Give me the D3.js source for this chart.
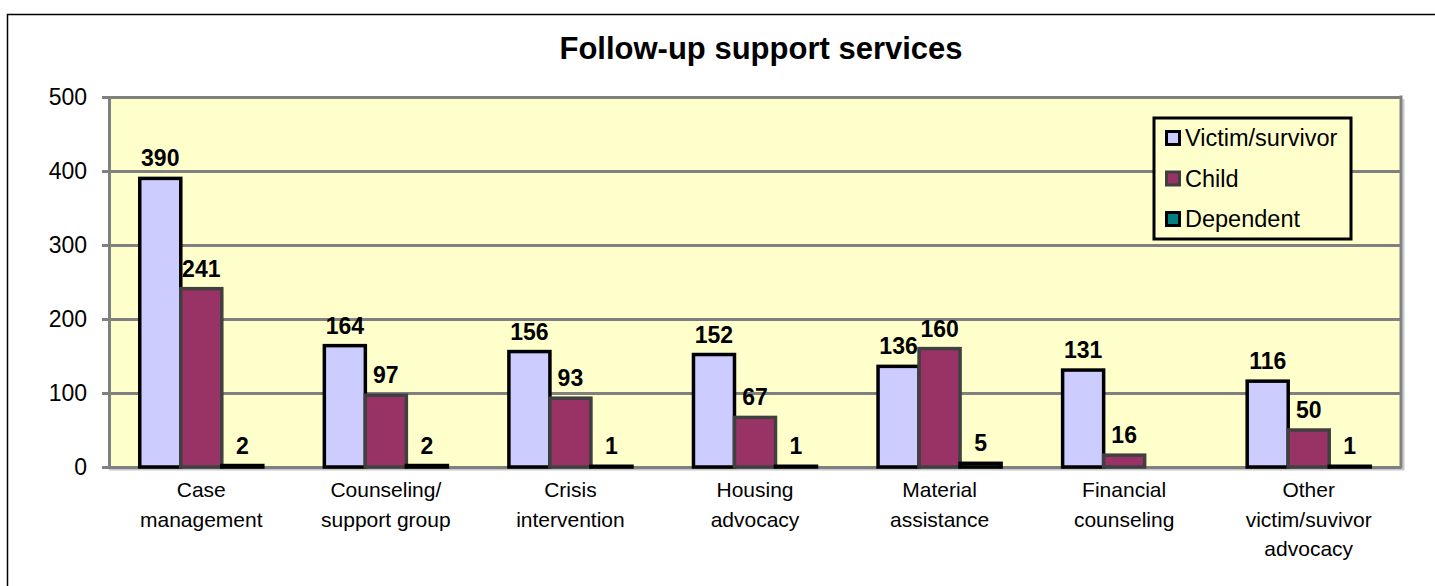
<!DOCTYPE html>
<html>
<head>
<meta charset="utf-8">
<script src="https://cdn.jsdelivr.net/npm/d3@7"></script>
<style>
  html, body { margin: 0; padding: 0; background: #fff; }
  svg { display: block; }
  text { font-family: "Liberation Sans", Arial, sans-serif; }
</style>
</head>
<body>
<svg id="chart" width="1435" height="586"></svg>
<script>
// ---- data ----
const categories = [
  "Case\nmanagement",
  "Counseling/\nsupport group",
  "Crisis\nintervention",
  "Housing\nadvocacy",
  "Material\nassistance",
  "Financial\ncounseling",
  "Other\nvictim/suvivor\nadvocacy"
];
const seriesNames = ["Victim/survivor", "Child", "Dependent"];
const victimSurvivor = [390, 164, 156, 152, 136, 131, 116];
const child = [241, 97, 93, 67, 160, 16, 50];
const dependent = [2, 2, 1, 1, 5, null, 1];
const yTicks = [0, 100, 200, 300, 400, 500];
const title = "Follow-up support services";

// ---- styles / layout ----
const fills = ["#CCCCFF", "#993366", "#008080"];
const strokes = ["#000000", "#404040", "#000000"];
const font = '"Liberation Sans", Arial, sans-serif';
const plot = { left: 109, right: 1401, top: 97, bottom: 467 };

const svg = d3.select("#chart");
const seriesValues = [victimSurvivor, child, dependent];

// frame
svg.append("rect")
  .attr("x", 7.5).attr("y", 14.5)
  .attr("width", 3000).attr("height", 3000)
  .attr("fill", "#fff").attr("stroke", "#000").attr("stroke-width", 1.5);

// title
svg.append("text")
  .attr("x", 761).attr("y", 59)
  .attr("text-anchor", "middle")
  .attr("font-size", 31).attr("font-weight", "bold")
  .attr("fill", "#000")
  .text(title);

// scales
const x0 = d3.scaleBand()
  .domain(d3.range(categories.length))
  .range([plot.left, plot.right])
  .paddingInner(1 / 3)
  .paddingOuter(1 / 6);
const x1 = d3.scaleBand()
  .domain(d3.range(seriesNames.length))
  .range([0, x0.bandwidth()])
  .padding(0);
const y = d3.scaleLinear().domain([0, 500]).range([plot.bottom, plot.top]);

// plot background
svg.append("rect")
  .attr("x", plot.left).attr("y", plot.top)
  .attr("width", plot.right - plot.left).attr("height", plot.bottom - plot.top)
  .attr("fill", "#FFFFCC");

// shadow lines
svg.append("line")
  .attr("x1", plot.left).attr("x2", plot.right + 3)
  .attr("y1", plot.bottom + 2.5).attr("y2", plot.bottom + 2.5)
  .attr("stroke", "#c8c8c8").attr("stroke-width", 2);
svg.append("line")
  .attr("x1", plot.right + 2.5).attr("x2", plot.right + 2.5)
  .attr("y1", plot.top + 2).attr("y2", plot.bottom + 3)
  .attr("stroke", "#c8c8c8").attr("stroke-width", 2);

// gridlines
const grid = svg.append("g")
  .attr("transform", `translate(${plot.left},0)`)
  .call(d3.axisLeft(y).tickValues(yTicks).tickSize(-(plot.right - plot.left)).tickFormat(""));
grid.select(".domain").remove();
grid.selectAll(".tick line").attr("stroke", "#808080").attr("stroke-width", 3);

// right border
svg.append("line")
  .attr("x1", plot.right).attr("x2", plot.right)
  .attr("y1", plot.top - 1.5).attr("y2", plot.bottom + 1.5)
  .attr("stroke", "#808080").attr("stroke-width", 3);

// y axis
const yAxis = svg.append("g")
  .attr("transform", `translate(${plot.left},0)`)
  .call(d3.axisLeft(y).tickValues(yTicks).tickSize(7).tickSizeOuter(0).tickPadding(15));
yAxis.select(".domain").attr("stroke", "#808080").attr("stroke-width", 3);
yAxis.selectAll(".tick line").attr("stroke", "#808080").attr("stroke-width", 3);
yAxis.selectAll(".tick text")
  .attr("font-family", font).attr("font-size", 23).attr("fill", "#000");

// bars
const groups = svg.append("g").selectAll("g")
  .data(categories.map((c, i) => i))
  .join("g")
  .attr("transform", i => `translate(${x0(i)},0)`);

const barData = i => seriesValues.map((vals, s) => ({ s, v: vals[i] })).filter(d => d.v != null);

groups.selectAll("rect")
  .data(barData)
  .join("rect")
  .attr("x", d => x1(d.s))
  .attr("width", x1.bandwidth())
  .attr("y", d => y(d.v))
  .attr("height", d => y(0) - y(d.v))
  .attr("fill", d => fills[d.s])
  .attr("stroke", d => strokes[d.s])
  .attr("stroke-width", 3.5);

// value labels
groups.selectAll("text.val")
  .data(barData)
  .join("text")
  .attr("class", "val")
  .attr("x", d => x1(d.s) + x1.bandwidth() / 2)
  .attr("y", d => y(d.v) - 12)
  .attr("text-anchor", "middle")
  .attr("font-size", 23).attr("font-weight", "bold")
  .attr("fill", "#000")
  .text(d => d.v);

// category labels
const catLabels = svg.append("g").selectAll("text")
  .data(categories)
  .join("text")
  .attr("x", (c, i) => x0(i) + x0.bandwidth() / 2)
  .attr("y", 497)
  .attr("text-anchor", "middle")
  .attr("font-size", 21)
  .attr("fill", "#000");
catLabels.each(function (c, i) {
  const t = d3.select(this);
  c.split("\n").forEach((line, k) => {
    t.append("tspan")
      .attr("x", x0(i) + x0.bandwidth() / 2)
      .attr("dy", k === 0 ? 0 : 29.5)
      .text(line);
  });
});

// legend
const legend = svg.append("g");
legend.append("rect")
  .attr("x", 1154).attr("y", 118)
  .attr("width", 197).attr("height", 121)
  .attr("fill", "#FFFFCC").attr("stroke", "#000").attr("stroke-width", 3);
const items = legend.selectAll("g.item")
  .data(seriesNames)
  .join("g")
  .attr("class", "item")
  .attr("transform", (d, i) => `translate(1166.5,${138 + i * 40.5})`);
items.append("rect")
  .attr("x", 0).attr("y", -6.5)
  .attr("width", 13).attr("height", 13)
  .attr("fill", (d, i) => fills[i])
  .attr("stroke", (d, i) => strokes[i])
  .attr("stroke-width", 3);
items.append("text")
  .attr("x", 18.5).attr("y", 8)
  .attr("font-size", 23.5)
  .attr("fill", "#000")
  .text(d => d);
</script>
</body>
</html>
